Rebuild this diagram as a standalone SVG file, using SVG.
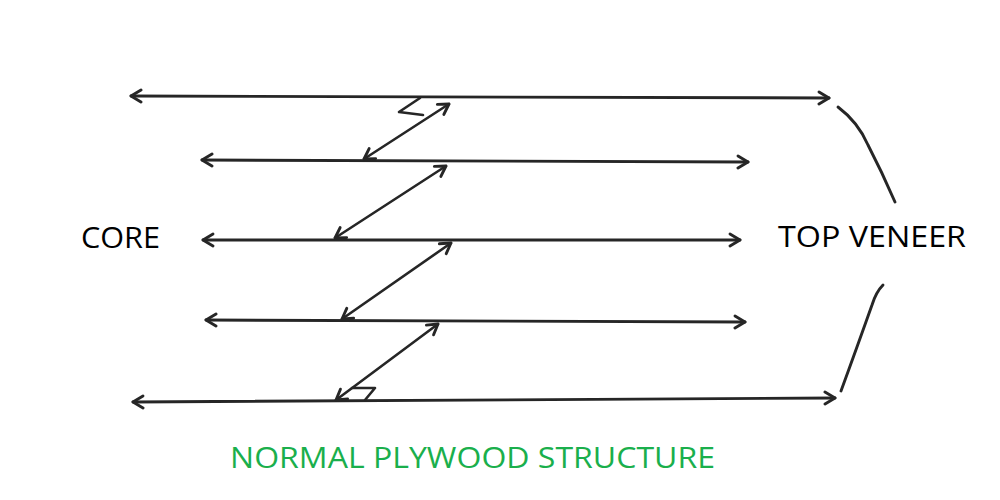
<svg xmlns="http://www.w3.org/2000/svg" width="1000" height="500" viewBox="0 0 1000 500">
<style>
.ln{fill:none;stroke:#262626;stroke-width:2.9;stroke-linecap:round;stroke-linejoin:round}
.dg{fill:none;stroke:#262626;stroke-width:2.6;stroke-linecap:round;stroke-linejoin:round}
.lbl{font-family:"Open Sans","Liberation Sans",sans-serif;font-size:29px;fill:#000}
.ttl{font-family:"Open Sans","Liberation Sans",sans-serif;font-size:29px;fill:#1aaf4c}
</style>
<defs>
<marker id="ah" viewBox="-12 -8 14 16" refX="0" refY="0" markerWidth="14" markerHeight="16" markerUnits="userSpaceOnUse" orient="auto-start-reverse">
<path d="M-10,-6 L0,0 L-10,6" fill="none" stroke="#262626" stroke-width="2.9" stroke-linecap="round" stroke-linejoin="round"/>
</marker>
</defs>
<rect width="1000" height="500" fill="#fff"/>
<g id="connectors">
<path class="ln" d="M131,96 L829,98" marker-start="url(#ah)" marker-end="url(#ah)"/>
<path class="ln" d="M202,160 L748,162" marker-start="url(#ah)" marker-end="url(#ah)"/>
<path class="ln" d="M203,240 L740,240" marker-start="url(#ah)" marker-end="url(#ah)"/>
<path class="ln" d="M206,320 L745,322" marker-start="url(#ah)" marker-end="url(#ah)"/>
<path class="ln" d="M133,402 L835,398" marker-start="url(#ah)" marker-end="url(#ah)"/>
<path class="dg" d="M364,159 L449,104" marker-start="url(#ah)" marker-end="url(#ah)"/>
<path class="dg" d="M420,98 L399,112 L423,115"/>
<path class="dg" d="M335,238 L446,166" marker-start="url(#ah)" marker-end="url(#ah)"/>
<path class="dg" d="M342,319 L451,243" marker-start="url(#ah)" marker-end="url(#ah)"/>
<path class="dg" d="M336,400 L438,324" marker-start="url(#ah)" marker-end="url(#ah)"/>
<path class="dg" d="M352,388 L375,388 L365,400"/>
<path class="ln" d="M838,107 Q858,122 868,145 Q882,172 895,202"/>
<path class="ln" d="M883,285 Q876,292 872,305 Q856,350 841,391"/>
</g>
<g id="core"><text class="lbl" x="81" y="248" textLength="79" lengthAdjust="spacingAndGlyphs">CORE</text></g>
<g id="top-veneer"><text class="lbl" x="778" y="247" textLength="188" lengthAdjust="spacingAndGlyphs">TOP VENEER</text></g>
<g id="title"><text class="ttl" x="230" y="468" textLength="485" lengthAdjust="spacingAndGlyphs">NORMAL PLYWOOD STRUCTURE</text></g>
</svg>
